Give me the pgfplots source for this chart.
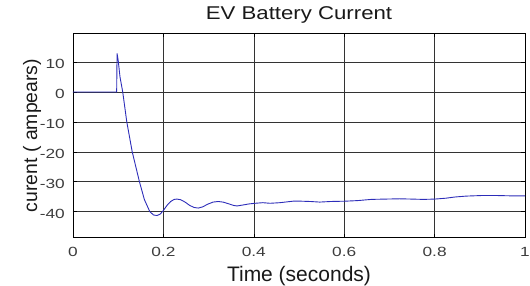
\documentclass[border=0pt]{standalone}
\usepackage{fontspec}
\setmainfont{Liberation Sans}
\newfontfamily\ticksf[FakeStretch=1.3]{Liberation Sans}
\newfontfamily\titlesf[FakeStretch=1.2]{Liberation Sans}
\usepackage{pgfplots}
\pgfplotsset{compat=1.18}
\definecolor{lineblue}{RGB}{45,45,185}
\definecolor{tickgray}{RGB}{60,60,60}
\begin{document}
\begin{tikzpicture}
\begin{axis}[
  name=ax,
  scale only axis,
  width=452pt, height=204.4pt,
  xmin=0, xmax=1, ymin=-48.7, ymax=19.6,
  xtick={0,0.2,0.4,0.6,0.8,1},
  ytick={-40,-30,-20,-10,0,10},
  xticklabels={0,0.2,0.4,0.6,0.8,1},
  yticklabels={-40,-30,-20,-10,0,10},
  tick align=inside,
  major tick length=4pt,
  tick style={black, line width=0.5pt},
  grid=major,
  major grid style={black!80, line width=0.5pt},
  axis line style={black, line width=0.7pt},
  xticklabel style={font=\ticksf\fontsize{13.3}{15}\selectfont, text=tickgray, anchor=base, yshift=-19pt, inner sep=0pt},
  yticklabel style={font=\ticksf\fontsize{13.3}{15}\selectfont, text=tickgray, anchor=east, xshift=-8pt, yshift=-2pt, inner sep=0pt},
  title={EV Battery Current},
  title style={font=\titlesf\fontsize{18.5}{20}\selectfont, text=black!90, at={(axis description cs:0.5,1.039)}, anchor=base, inner sep=0pt},
  xlabel={Time (seconds)},
  xlabel style={font=\fontsize{21}{24}\selectfont, text=black!90, at={(axis description cs:0.5,-0.212)}, anchor=base, inner sep=0pt},
  ylabel={curent ( ampears)},
  ylabel style={font=\fontsize{19.4}{22}\selectfont, text=black!90, at={(axis description cs:-0.0796,0.5)}, anchor=base, inner sep=0pt},
]
\addplot[lineblue, line width=0.9pt] coordinates {
(0,0) (0.0966,0) (0.0975,12.9) (0.100,10.5) (0.104,5) (0.110,0) (0.119,-10)
(0.131,-20) (0.147,-30) (0.158,-36) (0.170,-40) (0.178,-41.1) (0.186,-41.3)
(0.193,-40.8) (0.200,-39.6) (0.208,-37.9) (0.216,-36.6) (0.224,-35.9) (0.230,-35.8)
(0.238,-36.0) (0.248,-36.8) (0.258,-37.9) (0.268,-38.6) (0.277,-38.8) (0.287,-38.4)
(0.298,-37.5) (0.310,-36.8) (0.321,-36.6) (0.332,-36.8) (0.345,-37.4) (0.355,-37.9)
(0.363,-38.1) (0.375,-37.8) (0.390,-37.4) (0.403,-37.2) (0.420,-37.0) (0.436,-37.2)
(0.458,-37.0) (0.475,-36.7) (0.487,-36.5) (0.505,-36.5) (0.525,-36.6) (0.546,-36.8)
(0.570,-36.6) (0.602,-36.5) (0.630,-36.3) (0.660,-35.9) (0.690,-35.8) (0.723,-35.7)
(0.750,-35.8) (0.775,-35.9) (0.800,-35.8) (0.825,-35.5) (0.845,-35.1) (0.870,-34.8)
(0.905,-34.6) (0.935,-34.6) (0.965,-34.7) (1.0,-34.7)
};
\end{axis}
\pgfresetboundingbox
\path ([shift={(-73pt,-48.3pt)}]ax.south west) rectangle ([shift={(5pt,33.3pt)}]ax.north east);
\end{tikzpicture}
\end{document}
